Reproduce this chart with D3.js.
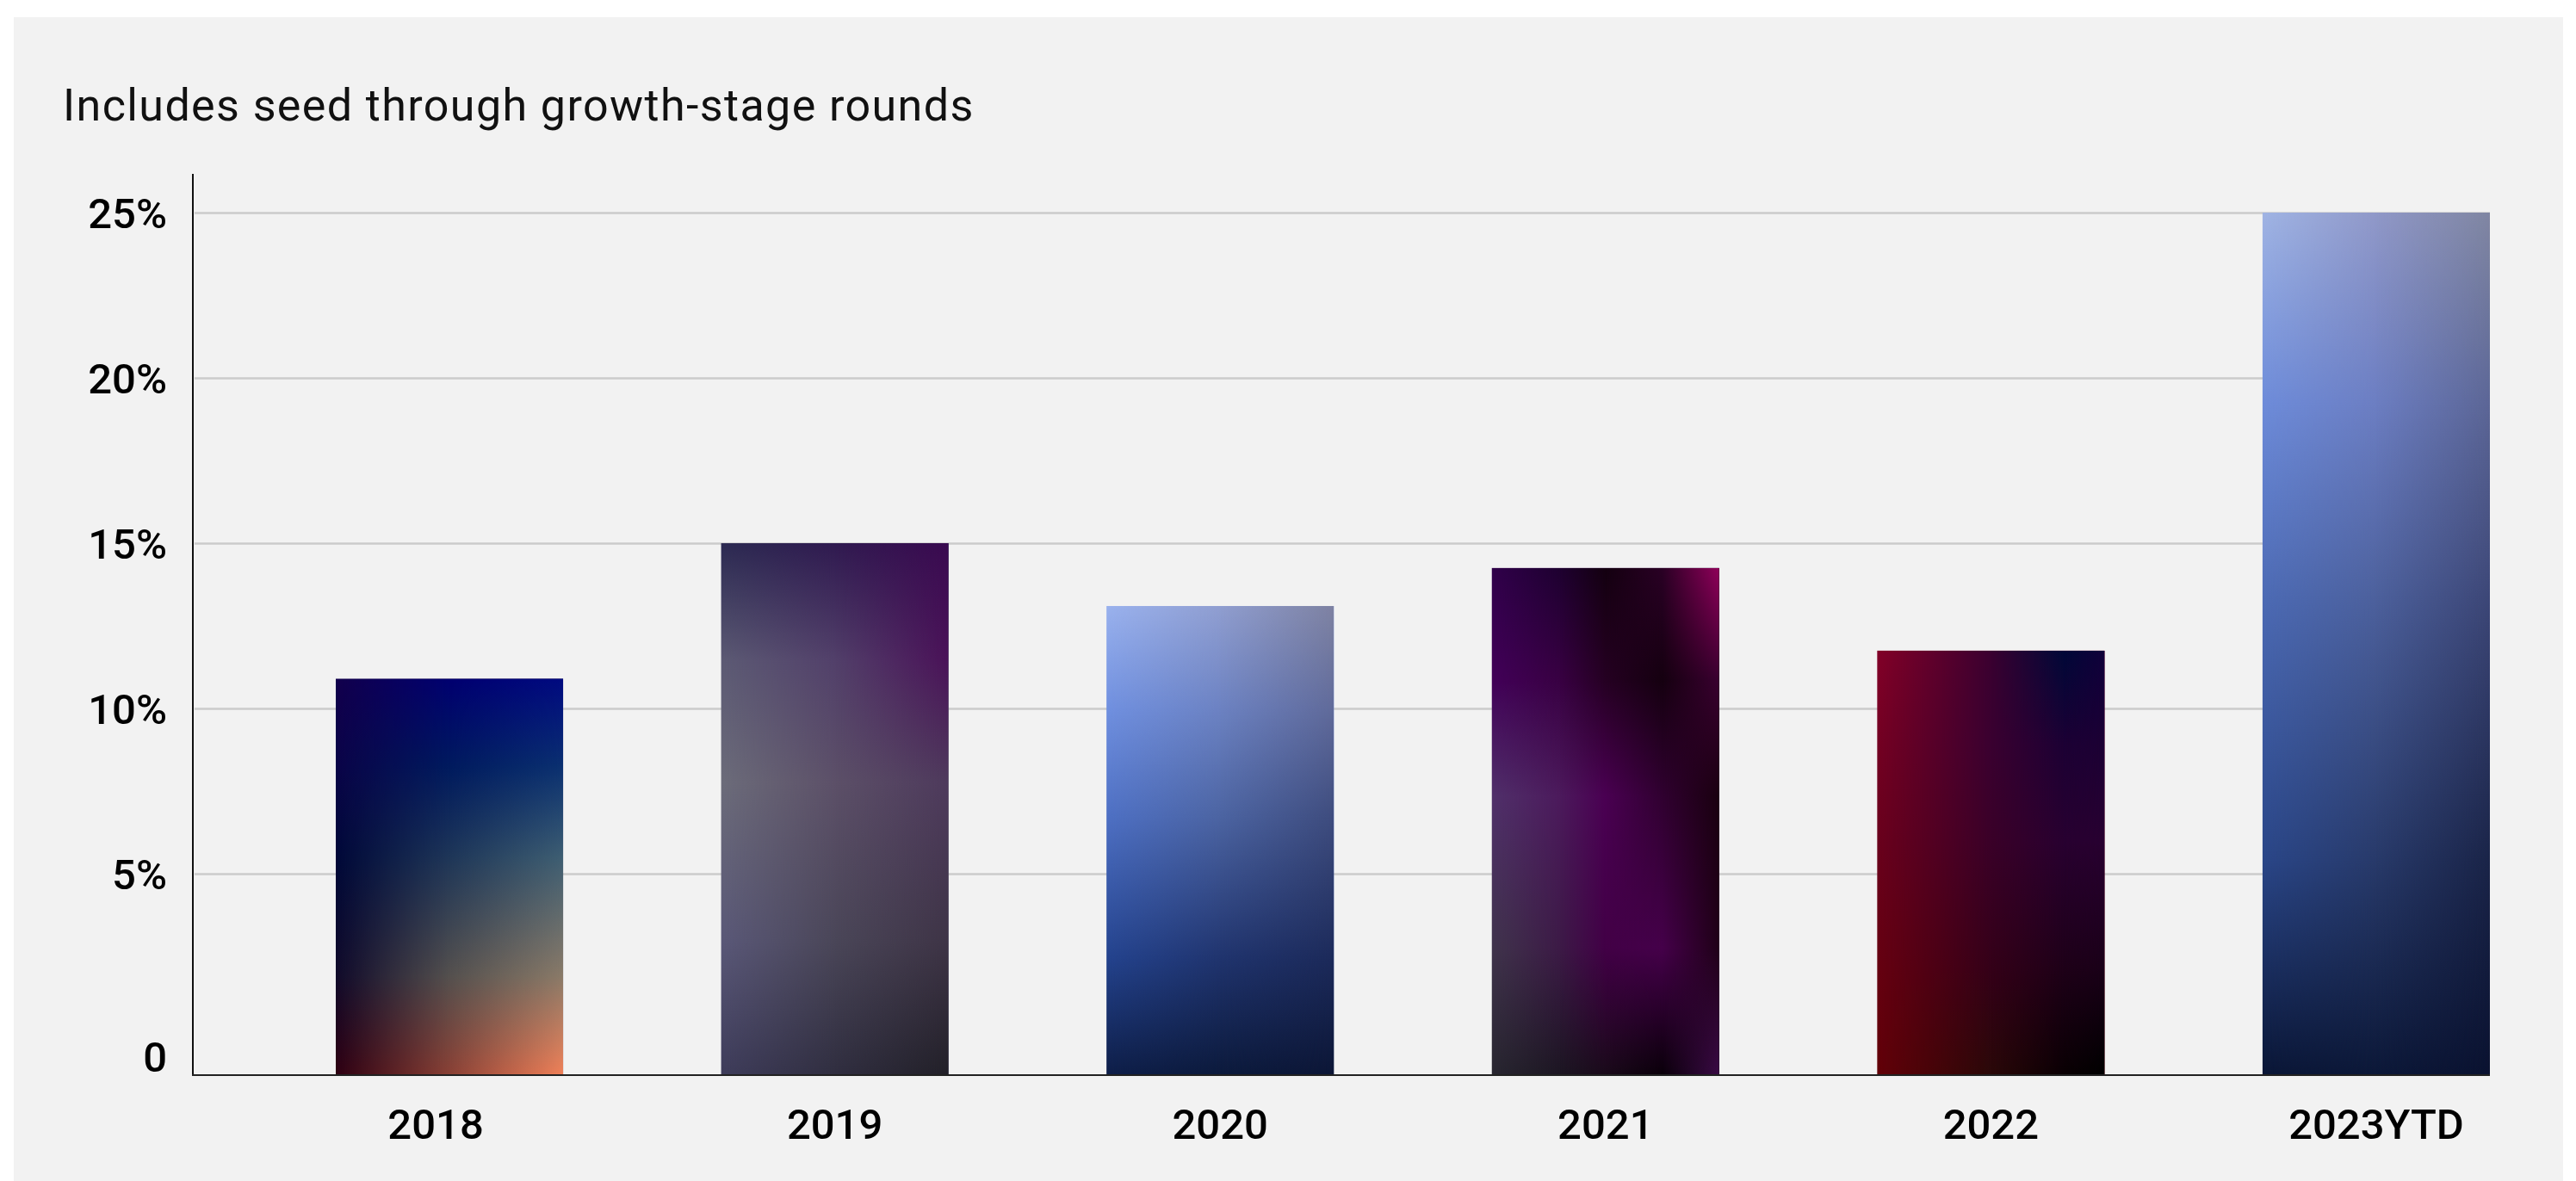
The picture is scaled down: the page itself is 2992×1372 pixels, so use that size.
<!DOCTYPE html>
<html>
<head>
<meta charset="utf-8">
<script src="https://cdn.jsdelivr.net/npm/d3@7"></script>
<style>
  html, body { margin: 0; padding: 0; background: #ffffff; }
  svg { display: block; }
</style>
</head>
<body>
<script>
// ---------- data ----------
const categories = ["2018", "2019", "2020", "2021", "2022", "2023YTD"];
const values = [10.9, 15.0, 13.1, 14.25, 11.75, 25.0];
const yTickValues = [0, 5, 10, 15, 20, 25];
const yTickLabels = ["0", "5%", "10%", "15%", "20%", "25%"];
const subtitle = "Includes seed through growth-stage rounds";

// ---------- styles ----------
// small horizontal nudges of the category labels (px), as in the reference
const labelNudge = [-16, 0, 0, 0, 0, 0];
// per-bar gradient "mesh": columns at x-fractions, each a vertical gradient over rows
const gradRows = [0, 0.22, 0.45, 0.75, 1];
const barGradients = [
  [ // 2018
    { x: 0,   c: ["#12004c", "#0a0448", "#000838", "#100a2a", "#2e0012"] },
    { x: 0.5, c: ["#000070", "#001a5e", "#1e3658", "#54504e", "#8a4035"] },
    { x: 1,   c: ["#000a80", "#0a3070", "#3e5e72", "#8a7a68", "#f08058"] }
  ],
  [ // 2019
    { x: 0,   c: ["#2c2a52", "#5c5a74", "#6c6c7a", "#5a5878", "#3e3c5a"] },
    { x: 0.5, c: ["#301a50", "#52406a", "#5c5068", "#4a4658", "#302e40"] },
    { x: 1,   c: ["#3a0a50", "#4a1258", "#4e3a5c", "#3e3446", "#222028"] }
  ],
  [ // 2020
    { x: 0,   c: ["#9ab2ee", "#7090e0", "#4e70c4", "#24438e", "#0e1e48"] },
    { x: 0.5, c: ["#909ed0", "#6c82c2", "#4c64a2", "#20346e", "#0c1a3c"] },
    { x: 1,   c: ["#7e82a2", "#606a9a", "#3e4c7e", "#1c2a5a", "#0c1636"] }
  ],
  [ // 2021
    { x: 0,    c: ["#30004a", "#420058", "#50306a", "#40344c", "#282630"] },
    { x: 0.3,  c: ["#1e0030", "#380042", "#4c1a5c", "#3c1a46", "#1c1622"] },
    { x: 0.5,  c: ["#140010", "#250022", "#4a0052", "#420046", "#1a0a1a"] },
    { x: 0.75, c: ["#2a0025", "#150010", "#300030", "#45004a", "#0a000a"] },
    { x: 1,    c: ["#90005a", "#3a0030", "#1a0010", "#200018", "#3a0a45"] }
  ],
  [ // 2022
    { x: 0,    c: ["#820028", "#740022", "#6a001c", "#660010", "#620008"] },
    { x: 0.5,  c: ["#3a0030", "#3a0030", "#3a0028", "#340018", "#2a0808"] },
    { x: 0.82, c: ["#000838", "#1c0034", "#280030", "#1e0018", "#0a0004"] },
    { x: 1,    c: ["#10003a", "#1c0034", "#280030", "#1a0018", "#000000"] }
  ],
  [ // 2023YTD
    { x: 0,   c: ["#a0b4e4", "#6e8cda", "#4c6ab4", "#2a4688", "#0a1636"] },
    { x: 0.5, c: ["#9098c8", "#6c7ec2", "#4c609c", "#283a6a", "#0c1838"] },
    { x: 1,   c: ["#8086a2", "#5c6696", "#3c4676", "#1a2448", "#0a1230"] }
  ]
];

// ---------- layout ----------
const W = 2992, H = 1372;
const panel = { x: 16, y: 20, w: 2961, h: 1352 };
const plot = { left: 224, right: 2892, top: 247, bottom: 1249, axisTop: 202, barStart: 390 };
const Y_MIN = -1.09;
const FONT = "Roboto, 'Liberation Sans', Arial, sans-serif";

const svg = d3.select("body").append("svg")
  .attr("width", W).attr("height", H);

svg.append("rect")
  .attr("x", panel.x).attr("y", panel.y)
  .attr("width", panel.w).attr("height", panel.h)
  .attr("fill", "#f2f2f2");

svg.append("text")
  .attr("x", 73).attr("y", 140)
  .attr("font-family", FONT)
  .attr("font-size", 52)
  .attr("font-weight", 400)
  .attr("letter-spacing", 1.4)
  .attr("fill", "#111")
  .text(subtitle);

const x = d3.scaleBand()
  .domain(categories)
  .range([plot.barStart, plot.right])
  .paddingInner(0.41)
  .paddingOuter(0);

const y = d3.scaleLinear()
  .domain([Y_MIN, 25])
  .range([plot.bottom, plot.top]);

// gridlines
const grid = svg.append("g")
  .attr("transform", `translate(${plot.left},0)`)
  .call(d3.axisLeft(y)
    .tickValues(yTickValues.filter(v => v > 0))
    .tickSize(-(plot.right - plot.left))
    .tickFormat(""));
grid.select(".domain").remove();
grid.selectAll(".tick line").attr("stroke", "#cbcbcb").attr("stroke-width", 2.5)
  .attr("x1", 2);

// gradients
const defs = svg.append("defs");
function vGrad(id, colors) {
  const g = defs.append("linearGradient").attr("id", id)
    .attr("x1", 0).attr("y1", 0).attr("x2", 0).attr("y2", 1);
  colors.forEach((c, i) => g.append("stop").attr("offset", gradRows[i]).attr("stop-color", c));
}
const maskIds = new Map();
function hMask(from, to) {
  const key = from + "_" + to;
  if (maskIds.has(key)) return maskIds.get(key);
  const id = "m" + maskIds.size;
  const g = defs.append("linearGradient").attr("id", id + "-g")
    .attr("x1", 0).attr("y1", 0).attr("x2", 1).attr("y2", 0);
  g.append("stop").attr("offset", from).attr("stop-color", "#000");
  g.append("stop").attr("offset", to).attr("stop-color", "#fff");
  const m = defs.append("mask").attr("id", id)
    .attr("maskContentUnits", "objectBoundingBox");
  m.append("rect").attr("x", 0).attr("y", 0).attr("width", 1).attr("height", 1)
    .attr("fill", `url(#${id}-g)`);
  maskIds.set(key, id);
  return id;
}

const barsG = svg.append("g");
categories.forEach((c, i) => {
  const bx = x(c), bw = x.bandwidth();
  const by = y(values[i]), bh = y(Y_MIN) - y(values[i]);
  const grp = barsG.append("g");
  const cols = barGradients[i];
  cols.forEach((col, k) => {
    const gid = `g${i}-${k}`;
    vGrad(gid, col.c);
    const r = grp.append("rect").attr("x", bx).attr("y", by)
      .attr("width", bw).attr("height", bh)
      .attr("fill", `url(#${gid})`);
    if (k > 0) r.attr("mask", `url(#${hMask(cols[k - 1].x, col.x)})`);
  });
});

// y axis labels
const yAxis = svg.append("g")
  .attr("transform", `translate(${plot.left},0)`)
  .call(d3.axisLeft(y)
    .tickValues(yTickValues)
    .tickSize(0)
    .tickPadding(30)
    .tickFormat((d, i) => yTickLabels[i]));
yAxis.select(".domain").remove();
yAxis.selectAll(".tick text")
  .attr("font-family", FONT)
  .attr("font-size", 49)
  .attr("font-weight", 500)
  .attr("fill", "#000")
  .attr("dy", "0.355em");
yAxis.selectAll(".tick").filter(d => d === 0)
  .attr("transform", `translate(0,${(y(0) + y(Y_MIN)) / 2})`);

svg.append("line")
  .attr("x1", plot.left).attr("x2", plot.left)
  .attr("y1", plot.axisTop).attr("y2", plot.bottom + 1)
  .attr("stroke", "#111").attr("stroke-width", 2);

// x axis
const xAxis = svg.append("g")
  .attr("transform", `translate(0,${plot.bottom})`)
  .call(d3.axisBottom(x).tickSize(0).tickPadding(39));
xAxis.select(".domain").remove();
xAxis.selectAll(".tick text")
  .attr("font-family", FONT)
  .attr("font-size", 49)
  .attr("font-weight", 500)
  .attr("fill", "#000")
  .attr("dx", (d, i) => labelNudge[i]);

svg.append("line")
  .attr("x1", plot.left - 1).attr("x2", plot.right)
  .attr("y1", plot.bottom).attr("y2", plot.bottom)
  .attr("stroke", "#222").attr("stroke-width", 2);
</script>
</body>
</html>
